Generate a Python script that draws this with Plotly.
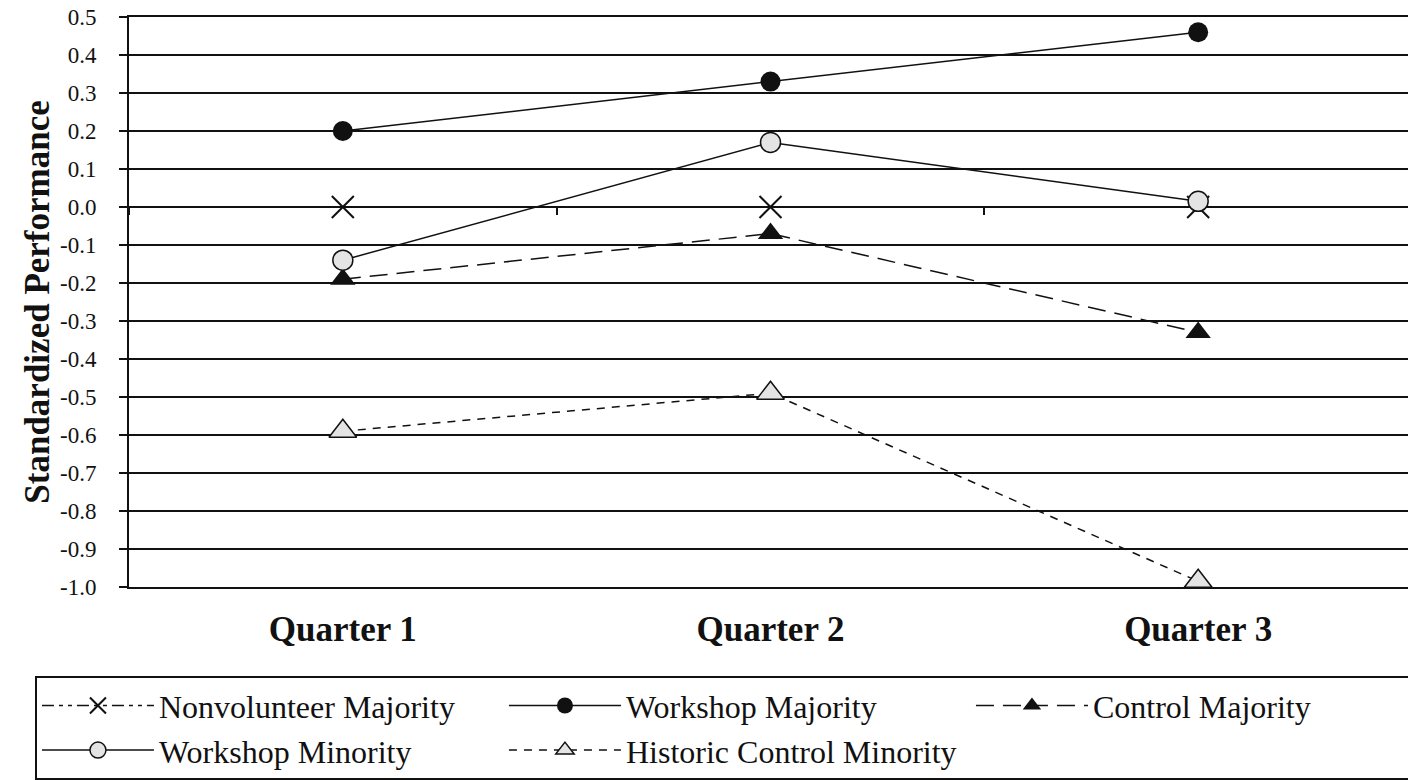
import plotly.graph_objects as go

QUARTERS = ["Quarter 1", "Quarter 2", "Quarter 3"]

NONVOLUNTEER_MAJORITY = [0.0, 0.0, 0.0]
WORKSHOP_MAJORITY = [0.20, 0.33, 0.46]
CONTROL_MAJORITY = [-0.19, -0.07, -0.33]
WORKSHOP_MINORITY = [-0.14, 0.17, 0.015]
HISTORIC_CONTROL_MINORITY = [-0.59, -0.49, -0.985]

Y_TICKS = [round(-1.0 + 0.1 * i, 1) for i in range(16)]
Y_TICK_TEXT = [f"{v:.1f}" for v in Y_TICKS]

SERIF = "Liberation Serif, Times New Roman, serif"
INK = "#111111"
PALE = "#e4e4e4"

fig = go.Figure()

fig.add_trace(go.Scatter(
    x=QUARTERS, y=NONVOLUNTEER_MAJORITY, name="Nonvolunteer Majority",
    mode="lines+markers",
    line=dict(color=INK, width=1.5, dash="12px,5px,4px,5px,4px,5px"),
    marker=dict(symbol="x-thin-open", size=22, line=dict(color=INK, width=2)),
))
fig.add_trace(go.Scatter(
    x=QUARTERS, y=WORKSHOP_MAJORITY, name="Workshop Majority",
    mode="lines+markers",
    line=dict(color=INK, width=1.5),
    marker=dict(symbol="circle", size=20, color=INK),
))
fig.add_trace(go.Scatter(
    x=QUARTERS, y=CONTROL_MAJORITY, name="Control Majority",
    mode="lines+markers",
    line=dict(color=INK, width=1.5, dash="18px,9px"),
    marker=dict(symbol="triangle-up", size=22, color=INK),
))
fig.add_trace(go.Scatter(
    x=QUARTERS, y=WORKSHOP_MINORITY, name="Workshop Minority",
    mode="lines+markers",
    line=dict(color=INK, width=1.5),
    marker=dict(symbol="circle", size=20, color=PALE, line=dict(color=INK, width=1.5)),
))
fig.add_trace(go.Scatter(
    x=QUARTERS, y=HISTORIC_CONTROL_MINORITY, name="Historic Control Minority",
    mode="lines+markers",
    line=dict(color=INK, width=1.5, dash="8px,7px"),
    marker=dict(symbol="triangle-up", size=24, color=PALE, line=dict(color=INK, width=1.5)),
))

# helper axis crossing at zero, only for the small category boundary ticks
fig.add_trace(go.Scatter(
    x=QUARTERS, y=[None] * len(QUARTERS), xaxis="x2",
    showlegend=False, hoverinfo="skip",
))

# page body has an 8px margin, so the figure is sized to fit what is left
fig.update_layout(
    width=1408,
    height=772,
    paper_bgcolor="white",
    plot_bgcolor="white",
    font=dict(family=SERIF, color=INK),
    margin=dict(l=121, r=4, t=9, b=193, autoexpand=False),
    showlegend=True,
    legend=dict(
        orientation="h",
        x=-0.0733, xanchor="left",
        y=-0.1565, yanchor="top",
        entrywidth=340,
        itemwidth=112,
        font=dict(family=SERIF, size=32, color=INK),
        bordercolor=INK,
        borderwidth=2,
        bgcolor="white",
        traceorder="normal",
    ),
    xaxis=dict(
        type="category",
        categoryorder="array",
        categoryarray=QUARTERS,
        range=[-0.5, 2.5],
        showgrid=False,
        zeroline=False,
        showline=True,
        linecolor=INK,
        linewidth=2,
        mirror=True,
        ticks="",
        ticklabelstandoff=10,
        tickfont=dict(family=SERIF, size=35, color=INK, weight="bold"),
    ),
    xaxis2=dict(
        type="category",
        categoryorder="array",
        categoryarray=QUARTERS,
        range=[-0.5, 2.5],
        overlaying="x",
        anchor="free",
        position=2 / 3,
        side="bottom",
        showgrid=False,
        zeroline=False,
        showline=False,
        showticklabels=False,
        ticks="outside",
        tickson="boundaries",
        ticklen=7,
        tickwidth=2,
        tickcolor=INK,
    ),
    yaxis=dict(
        range=[-1.0, 0.5],
        tickvals=Y_TICKS,
        ticktext=Y_TICK_TEXT,
        showgrid=True,
        gridcolor=INK,
        gridwidth=2,
        zeroline=False,
        showline=True,
        linecolor=INK,
        linewidth=2,
        mirror=True,
        ticks="outside",
        ticklen=8,
        tickwidth=2,
        tickcolor=INK,
        ticklabelstandoff=18,
        ticklabeloverflow="allow",
        tickfont=dict(family=SERIF, size=23, color=INK),
        title=dict(
            text="Standardized Performance",
            font=dict(family=SERIF, size=35, color=INK, weight="bold"),
            standoff=0,
        ),
    ),
)

fig.write_html("out.html")
